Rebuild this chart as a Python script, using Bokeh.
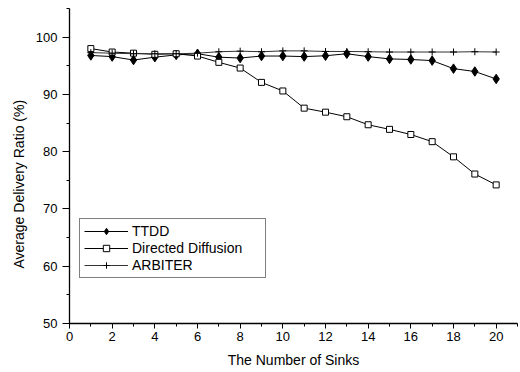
from bokeh.plotting import figure
from bokeh.models import (SingleIntervalTicker, Legend, LegendItem, Title, ColumnDataSource)
from bokeh.embed import file_html
from bokeh.resources import INLINE

sinks = list(range(1, 21))
ttdd = [96.8, 96.6, 96.0, 96.5, 96.9, 97.1, 96.5, 96.35, 96.7, 96.7,
        96.6, 96.75, 97.1, 96.6, 96.2, 96.1, 95.9, 94.5, 94.0, 92.7]
dd = [98.0, 97.4, 97.2, 97.0, 97.1, 96.7, 95.6, 94.6, 92.1, 90.6,
      87.6, 86.9, 86.1, 84.7, 83.9, 83.0, 81.75, 79.1, 76.1, 74.2]
arbiter = [97.3, 97.2, 97.1, 97.1, 97.1, 97.2, 97.45, 97.55, 97.45, 97.6,
           97.6, 97.5, 97.5, 97.45, 97.4, 97.4, 97.4, 97.4, 97.45, 97.4]

x_title = "The Number of Sinks"
y_title = "Average Delivery Ratio (%)"
names = ["TTDD", "Directed Diffusion", "ARBITER"]

FONT = "Liberation Sans"

p = figure(width=520, height=372, x_range=(0, 21), y_range=(50, 105),
           output_backend="svg", toolbar_location=None,
           min_border_left=69, min_border_right=3, min_border_top=8, min_border_bottom=49)
p.outline_line_color = None
p.xgrid.visible = False
p.ygrid.visible = False
p.background_fill_color = "white"
p.border_fill_color = "white"

p.xaxis.ticker = SingleIntervalTicker(interval=2, num_minor_ticks=2)
p.yaxis.ticker = SingleIntervalTicker(interval=10, num_minor_ticks=2)
for ax in (p.xaxis[0], p.yaxis[0]):
    ax.axis_line_color = "black"
    ax.axis_line_width = 1.3
    ax.major_tick_line_color = "black"
    ax.minor_tick_line_color = "black"
    ax.major_tick_in = 0
    ax.minor_tick_in = 0
    ax.major_label_text_font = FONT
    ax.major_label_text_font_size = "13px"
    ax.major_label_text_color = "black"
p.xaxis.major_tick_out = 5
p.xaxis.minor_tick_out = 3
p.yaxis.major_tick_out = 7
p.yaxis.minor_tick_out = 3
p.xaxis.major_label_standoff = 3
p.yaxis.major_label_standoff = 5
p.xaxis.axis_label = x_title
p.xaxis.axis_label_text_font = FONT
p.xaxis.axis_label_text_font_size = "14px"
p.xaxis.axis_label_text_font_style = "normal"
p.xaxis.axis_label_text_color = "black"
p.xaxis.axis_label_standoff = 8

src = ColumnDataSource(dict(x=sinks, ttdd=ttdd, dd=dd, arb=arbiter))

l1 = p.line("x", "ttdd", source=src, line_color="black", line_width=1)
m1 = p.scatter("x", "ttdd", source=src, marker="diamond", size=9.5,
               fill_color="black", line_color="black")
l2 = p.line("x", "dd", source=src, line_color="black", line_width=1)
m2 = p.scatter("x", "dd", source=src, marker="square", size=6,
               fill_color="white", line_color="black", line_width=1)
l3 = p.line("x", "arb", source=src, line_color="#333333", line_width=1)
m3 = p.scatter("x", "arb", source=src, marker="cross", size=7,
               line_color="black", line_width=1)

legend = Legend(items=[LegendItem(label=names[0], renderers=[l1, m1]),
                       LegendItem(label=names[1], renderers=[l2, m2]),
                       LegendItem(label=names[2], renderers=[l3, m3])],
                location=(10, 45), orientation="vertical")
legend.border_line_color = "black"
legend.border_line_width = 1
legend.background_fill_color = "white"
legend.background_fill_alpha = 1
legend.label_text_font = FONT
legend.label_text_font_size = "14px"
legend.label_text_color = "black"
legend.padding = 4
legend.margin = 0
legend.spacing = 1
legend.glyph_width = 44
legend.glyph_height = 16
legend.label_height = 16
legend.label_width = 129
legend.label_standoff = 4
p.add_layout(legend)

ytitle = Title(text=y_title, align="left", offset=55,
               text_font=FONT, text_font_size="14px", text_font_style="normal",
               text_color="black", standoff=11)
p.add_layout(ytitle, "left")

open("out.html", "w").write(file_html(p, INLINE))
